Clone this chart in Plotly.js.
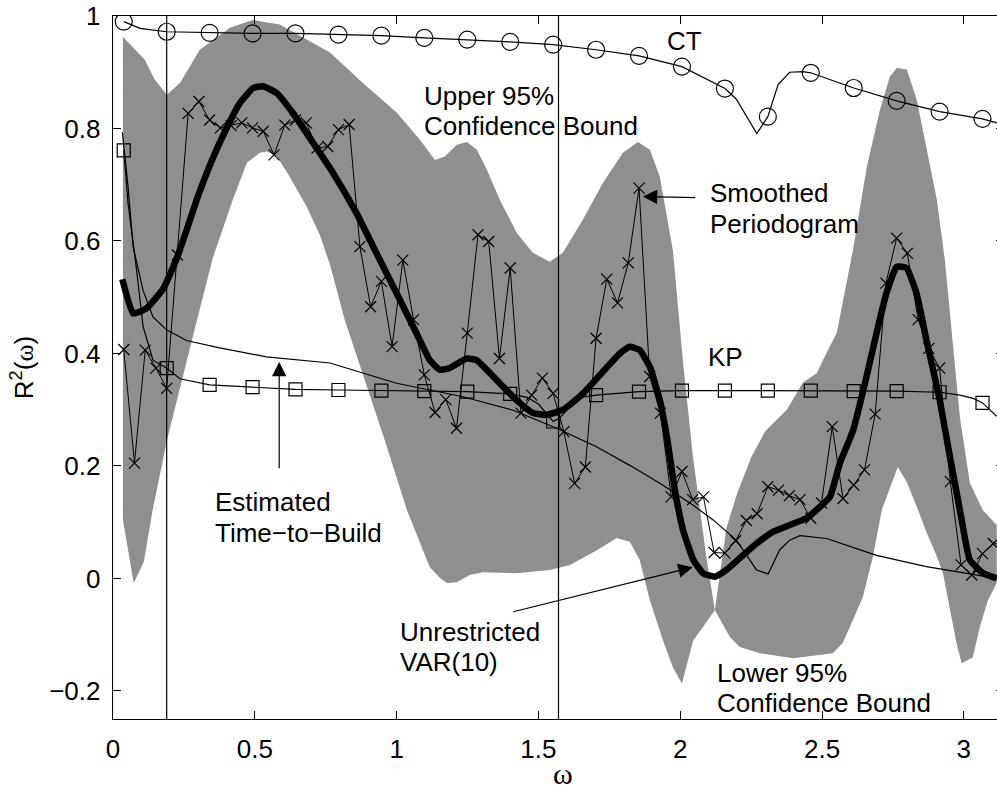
<!DOCTYPE html>
<html><head><meta charset="utf-8">
<script src="https://cdn.plot.ly/plotly-3.0.1.min.js"></script>
<style>html,body{margin:0;padding:0;overflow:hidden;background:#fff}#chart{width:1005px;height:788px}</style>
</head><body><div id="chart"></div>
<script>
// Frequency grid of the periodogram (omega)
const freq = [0.0379,0.0757,0.1136,0.1514,0.1893,0.2271,0.2650,0.3028,0.3407,0.3785,
0.4164,0.4542,0.4921,0.5299,0.5678,0.6056,0.6435,0.6813,0.7192,0.7570,
0.7949,0.8327,0.8706,0.9084,0.9463,0.9841,1.0220,1.0598,1.0977,1.1355,
1.1734,1.2112,1.2491,1.2869,1.3248,1.3626,1.4005,1.4383,1.4762,1.5140,
1.5519,1.5897,1.6276,1.6654,1.7033,1.7411,1.7790,1.8168,1.8547,1.8925,
1.9304,1.9682,2.0061,2.0439,2.0818,2.1196,2.1575,2.1953,2.2332,2.2710,
2.3089,2.3467,2.3846,2.4224,2.4603,2.4981,2.5360,2.5738,2.6117,2.6495,
2.6874,2.7252,2.7631,2.8009,2.8388,2.8766,2.9145,2.9523,2.9902,3.0280,
3.0659,3.1037,3.1416];
// x-marked series
const periodogram = [0.407,0.205,0.406,0.374,0.338,0.575,0.827,0.848,0.815,0.801,
0.805,0.810,0.801,0.795,0.753,0.806,0.815,0.810,0.765,0.768,
0.798,0.807,0.590,0.483,0.528,0.412,0.566,0.460,0.362,0.295,
0.318,0.267,0.436,0.611,0.599,0.391,0.552,0.294,0.326,0.356,
0.329,0.261,0.169,0.198,0.427,0.532,0.490,0.561,0.694,0.359,
0.294,0.145,0.190,0.140,0.145,0.046,0.045,0.067,0.103,0.115,
0.163,0.157,0.147,0.140,0.107,0.134,0.270,0.142,0.166,0.193,
0.292,0.525,0.605,0.578,0.460,0.409,0.374,0.172,0.024,0.006,
0.044,0.062,0.060];
// marker values of CT (circles) and KP (squares) at every 4th frequency
const ctMarkers = [0.990,0.972,0.970,0.969,0.969,0.967,0.965,0.961,0.958,0.954,0.949,0.940,0.929,0.910,0.871,0.821,0.899,0.872,0.849,0.830,0.817];
const kpMarkers = [0.761,0.374,0.344,0.340,0.336,0.335,0.334,0.333,0.332,0.328,0.279,0.326,0.332,0.334,0.334,0.334,0.334,0.333,0.333,0.331,0.312];
// CT curve
const ctLineX = [0.038,0.095,0.189,0.341,0.492,0.644,0.795,0.946,1.098,1.249,1.401,1.552,1.703,1.855,2.006,2.158,2.198,2.270,2.309,2.345,2.386,2.433,2.460,2.612,2.763,2.915,3.066,3.116];
const ctLineY = [0.990,0.978,0.972,0.970,0.969,0.969,0.967,0.965,0.961,0.958,0.954,0.949,0.940,0.929,0.910,0.871,0.852,0.791,0.821,0.878,0.900,0.901,0.899,0.872,0.849,0.830,0.817,0.810];
// KP curve
const kpLineX = [0.038,0.053,0.083,0.106,0.141,0.189,0.236,0.341,0.492,0.644,0.795,0.946,1.098,1.249,1.401,1.460,1.500,1.530,1.552,1.575,1.610,1.650,1.703,1.855,2.006,2.158,2.309,2.460,2.612,2.763,2.915,2.986,3.033,3.066,3.116];
const kpLineY = [0.761,0.667,0.549,0.448,0.388,0.374,0.355,0.344,0.340,0.336,0.335,0.334,0.333,0.332,0.328,0.322,0.310,0.292,0.279,0.285,0.305,0.322,0.326,0.332,0.334,0.334,0.334,0.334,0.333,0.333,0.331,0.326,0.320,0.312,0.288];
// Estimated time-to-build curve
const ttbX = [0.033,0.053,0.071,0.106,0.141,0.189,0.259,0.376,0.541,0.765,1.000,1.234,1.411,1.564,1.705,1.822,1.928,2.046,2.116,2.198,2.269,2.310,2.351,2.386,2.422,2.457,2.516,2.692,2.868,3.010,3.116];
const ttbY = [0.793,0.697,0.590,0.512,0.465,0.442,0.423,0.410,0.394,0.383,0.347,0.323,0.299,0.267,0.234,0.201,0.169,0.130,0.104,0.068,0.015,0.008,0.051,0.068,0.076,0.074,0.071,0.041,0.021,0.009,0.000];
// Unrestricted VAR(10) curve (thick)
const varX = [0.033,0.071,0.118,0.177,0.224,0.260,0.300,0.350,0.400,0.447,0.494,0.529,0.577,0.635,0.706,0.776,0.859,0.941,1.000,1.070,1.117,1.152,1.187,1.247,1.282,1.352,1.423,1.481,1.529,1.587,1.658,1.728,1.787,1.822,1.857,1.893,1.928,1.955,1.981,2.010,2.046,2.081,2.122,2.163,2.210,2.269,2.328,2.386,2.445,2.492,2.528,2.563,2.610,2.657,2.692,2.727,2.763,2.798,2.833,2.868,2.915,2.951,2.986,3.021,3.068,3.116];
const varY = [0.532,0.471,0.480,0.515,0.568,0.620,0.680,0.745,0.800,0.845,0.872,0.875,0.863,0.827,0.774,0.721,0.649,0.566,0.507,0.436,0.388,0.371,0.374,0.391,0.388,0.353,0.317,0.294,0.291,0.300,0.329,0.368,0.400,0.412,0.406,0.376,0.317,0.245,0.157,0.086,0.033,0.009,0.003,0.015,0.036,0.062,0.083,0.095,0.107,0.127,0.145,0.205,0.264,0.359,0.436,0.507,0.554,0.552,0.507,0.424,0.317,0.216,0.122,0.033,0.009,0.000];
// 95% confidence bounds
const upperX = [0.035,0.112,0.147,0.190,0.236,0.306,0.412,0.493,0.588,0.659,0.765,0.881,1.001,1.082,1.135,1.170,1.212,1.248,1.283,1.318,1.364,1.424,1.480,1.540,1.586,1.657,1.727,1.798,1.851,1.893,1.928,1.974,2.009,2.044,2.068,2.092,2.122,2.140,2.163,2.200,2.250,2.300,2.376,2.432,2.482,2.503,2.552,2.609,2.658,2.704,2.739,2.764,2.799,2.834,2.870,2.905,2.933,2.986,3.021,3.067,3.116];
const upperY = [0.963,0.922,0.887,0.860,0.881,0.940,0.979,0.993,0.985,0.965,0.935,0.881,0.828,0.780,0.744,0.750,0.771,0.776,0.762,0.727,0.673,0.614,0.579,0.563,0.579,0.638,0.703,0.757,0.776,0.762,0.714,0.584,0.389,0.220,0.127,0.038,-0.056,0.009,0.090,0.150,0.215,0.262,0.300,0.348,0.365,0.388,0.437,0.584,0.732,0.833,0.892,0.908,0.905,0.851,0.762,0.673,0.566,0.287,0.170,0.121,0.095];
const lowerX = [0.035,0.073,0.109,0.140,0.190,0.281,0.352,0.422,0.472,0.518,0.542,0.578,0.623,0.683,0.729,0.765,0.817,0.888,0.958,1.036,1.082,1.117,1.152,1.177,1.212,1.258,1.304,1.424,1.540,1.611,1.706,1.776,1.822,1.857,1.893,1.939,1.974,2.006,2.046,2.081,2.122,2.140,2.175,2.210,2.281,2.398,2.538,2.573,2.609,2.644,2.679,2.711,2.767,2.800,2.840,2.870,2.900,2.926,2.951,2.974,2.992,3.032,3.056,3.085,3.116];
const lowerY = [0.104,-0.008,0.030,0.122,0.245,0.429,0.570,0.673,0.739,0.757,0.759,0.750,0.714,0.661,0.611,0.558,0.460,0.353,0.246,0.122,0.063,0.020,0.001,-0.008,-0.007,0.006,0.011,0.009,0.015,0.024,0.050,0.072,0.065,0.033,-0.039,-0.110,-0.158,-0.187,-0.110,-0.086,-0.056,-0.074,-0.104,-0.122,-0.133,-0.142,-0.133,-0.115,-0.074,-0.033,0.038,0.122,0.198,0.170,0.120,0.080,0.045,0.010,-0.056,-0.115,-0.151,-0.140,-0.087,-0.039,-0.008];
// reference frequencies (vertical lines)
const refFreqs = [0.1893, 1.5708];
const xTicks = [0, 0.5, 1, 1.5, 2, 2.5, 3];
const yTicks = [-0.2, 0, 0.2, 0.4, 0.6, 0.8, 1];

const markerFreq = freq.filter((_, i) => i % 4 === 0);
const K = '#000000';

const traces = [
  {x: upperX.concat(lowerX.slice().reverse()), y: upperY.concat(lowerY.slice().reverse()),
   mode: 'lines', fill: 'toself', fillcolor: '#8f8f8f', line: {width: 0, color: 'rgba(0,0,0,0)'}, hoverinfo: 'skip'},
  {x: freq, y: periodogram, mode: 'lines+markers', line: {color: K, width: 1},
   marker: {symbol: 'x-thin-open', size: 11, color: K, line: {width: 1.2, color: K}}},
  {x: ttbX, y: ttbY, mode: 'lines', line: {color: K, width: 1.2}},
  {x: kpLineX, y: kpLineY, mode: 'lines', line: {color: K, width: 1.2}},
  {x: markerFreq, y: kpMarkers, mode: 'markers',
   marker: {symbol: 'square-open', size: 13, color: K, line: {width: 1.2, color: K}}},
  {x: ctLineX, y: ctLineY, mode: 'lines', line: {color: K, width: 1.2}},
  {x: markerFreq, y: ctMarkers, mode: 'markers',
   marker: {symbol: 'circle-open', size: 17, color: K, line: {width: 1.2, color: K}}},
  {x: varX, y: varY, mode: 'lines', line: {color: K, width: 6.5, shape: 'spline', smoothing: 0.4}}
];

const txt = (text, x, y, xa) => ({text, x, y, xref: 'x', yref: 'y', xanchor: xa || 'left', yanchor: 'middle', showarrow: false, font: {size: 26, color: K}});
const arrow = (x, y, ax, ay) => ({text: '', x, y, ax, ay, xref: 'x', yref: 'y', axref: 'x', ayref: 'y', showarrow: true, arrowhead: 2, arrowsize: 2.4, arrowwidth: 1.2, arrowcolor: K});

const annotations = [
  txt('CT', 2.016, 0.956, 'center'),
  txt('Upper 95%', 1.089, 0.858), txt('Confidence Bound', 1.089, 0.805),
  txt('Smoothed', 2.097, 0.686), txt('Periodogram', 2.097, 0.631),
  txt('KP', 2.158, 0.394, 'center'),
  txt('Estimated', 0.352, 0.136), txt('Time\u2212to\u2212Build', 0.352, 0.081),
  txt('Unrestricted', 1.004, -0.096), txt('VAR(10)', 1.004, -0.149),
  txt('Lower 95%', 2.122, -0.168), txt('Confidence Bound', 2.122, -0.222),
  arrow(1.868, 0.679, 2.058, 0.677),
  arrow(0.586, 0.385, 0.586, 0.193),
  arrow(2.044, 0.020, 1.406, -0.060),
  // x-axis title
  {text: '\u03c9', xref: 'paper', yref: 'paper', x: 0.505, y: -0.0775, xanchor: 'center', yanchor: 'middle',
   height: 26, valign: 'middle', showarrow: false, font: {family: 'Liberation Serif, Times New Roman, serif', size: 30, color: K}}
];

const shapes = refFreqs.map(f => ({type: 'line', xref: 'x', yref: 'paper', x0: f, x1: f, y0: 0, y1: 1, line: {color: K, width: 1.2}, layer: 'above'}));

const axisBase = {showgrid: false, zeroline: false, showline: true, linecolor: K, linewidth: 1.3,
  ticks: 'inside', ticklen: 8, tickwidth: 1, tickcolor: K, mirror: 'ticks', tickfont: {size: 26, color: K}};

const layout = {
  width: 1005, height: 788, margin: {l: 113, r: 1, t: 16, b: 69},
  paper_bgcolor: '#ffffff', plot_bgcolor: '#ffffff', showlegend: false,
  font: {family: 'Liberation Sans, Arial, Helvetica, sans-serif', size: 26, color: K},
  xaxis: Object.assign({}, axisBase, {range: [0, Math.PI], tickmode: 'array', tickvals: xTicks, ticklabelstandoff: 6}),
  yaxis: Object.assign({}, axisBase, {range: [-0.25, 1], tickmode: 'array', tickvals: yTicks, ticklabelstandoff: 6,
    title: {text: 'R<sup>2</sup>(<span style="font-family:Liberation Serif">\u03c9</span>)', font: {size: 26, color: K}, standoff: 8}}),
  annotations, shapes
};

Plotly.newPlot('chart', traces, layout, {staticPlot: true, displayModeBar: false});
</script></body></html>
